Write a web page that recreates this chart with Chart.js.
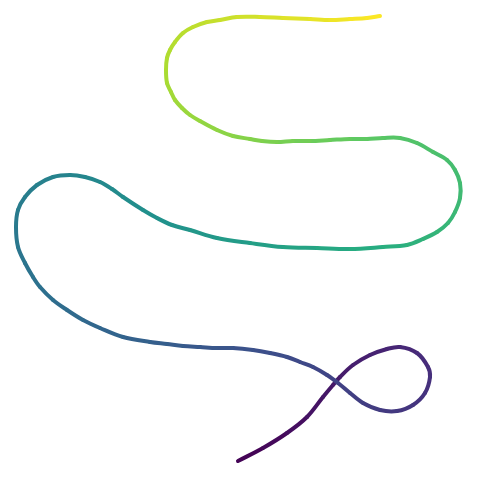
<!DOCTYPE html>
<html>
<head>
<meta charset="utf-8">
<script src="https://cdn.jsdelivr.net/npm/chart.js@4/dist/chart.umd.min.js"></script>
<style>
  html, body { margin: 0; padding: 0; background: #fff; }
  #wrap { width: 480px; height: 480px; }
</style>
</head>
<body>
<div id="wrap"><canvas id="chart"></canvas></div>
<script>
// path traced from start (dark) to end (bright)
const xs = [
  2.38, 2.63, 2.87, 3.07, 3.23, 3.33, 3.40, 3.53, 3.70, 3.87,
  4.00, 4.17, 4.28, 4.30, 4.25, 4.13, 3.97, 3.80, 3.63, 3.50,
  3.38, 3.27, 3.13, 3.00, 2.87, 2.70, 2.53, 2.33, 2.17, 2.00,
  1.83, 1.67, 1.50, 1.23, 1.00, 0.83, 0.67, 0.53, 0.40, 0.33,
  0.25, 0.18, 0.16, 0.18, 0.25, 0.37, 0.53, 0.70, 0.85, 1.00,
  1.12, 1.23, 1.43, 1.57, 1.72, 1.90, 2.17, 2.50, 2.83, 3.17,
  3.50, 3.83, 4.07, 4.23, 4.37, 4.48, 4.55, 4.60, 4.60, 4.55,
  4.47, 4.33, 4.17, 4.00, 3.83, 3.67, 3.50, 3.30, 3.10, 2.93,
  2.77, 2.62, 2.50, 2.33, 2.17, 2.00, 1.90, 1.82, 1.75, 1.71,
  1.67, 1.66, 1.67, 1.70, 1.75, 1.83, 1.93, 2.07, 2.20, 2.37,
  2.60, 2.83, 3.10, 3.30, 3.50, 3.67, 3.80
];
const ys = [
  0.19, 0.32, 0.47, 0.63, 0.83, 0.95, 1.03, 1.15, 1.25, 1.31,
  1.33, 1.27, 1.13, 1.03, 0.87, 0.75, 0.69, 0.70, 0.77, 0.87,
  0.97, 1.05, 1.13, 1.18, 1.23, 1.27, 1.30, 1.32, 1.32, 1.33,
  1.34, 1.36, 1.38, 1.43, 1.52, 1.60, 1.70, 1.80, 1.93, 2.03,
  2.17, 2.33, 2.53, 2.70, 2.83, 2.95, 3.03, 3.05, 3.03, 2.98,
  2.91, 2.83, 2.70, 2.62, 2.55, 2.50, 2.42, 2.37, 2.33, 2.32,
  2.31, 2.33, 2.35, 2.41, 2.48, 2.57, 2.68, 2.82, 2.97, 3.10,
  3.20, 3.28, 3.37, 3.42, 3.42, 3.41, 3.41, 3.40, 3.39, 3.39,
  3.38, 3.39, 3.41, 3.44, 3.50, 3.59, 3.65, 3.72, 3.80, 3.88,
  3.97, 4.10, 4.22, 4.30, 4.38, 4.47, 4.53, 4.58, 4.60, 4.63,
  4.63, 4.62, 4.61, 4.60, 4.61, 4.62, 4.64
];

const viridis = [
  [68, 1, 84], [71, 45, 123], [59, 82, 139], [44, 114, 142], [33, 145, 140],
  [40, 174, 128], [94, 201, 98], [173, 220, 48], [253, 231, 37]
];

function viridisColor(t) {
  t = Math.min(1, Math.max(0, t));
  const p = t * (viridis.length - 1);
  const i = Math.min(viridis.length - 2, Math.floor(p));
  const f = p - i;
  const c = viridis[i].map((v, k) => Math.round(v + (viridis[i + 1][k] - v) * f));
  return `rgb(${c[0]},${c[1]},${c[2]})`;
}

// colour runs along the arc length of the path
const cum = [0];
for (let i = 1; i < xs.length; i++) {
  cum.push(cum[i - 1] + Math.hypot(xs[i] - xs[i - 1], ys[i] - ys[i - 1]));
}
const total = cum[cum.length - 1];

const points = xs.map((x, i) => ({ x: x, y: ys[i] }));

new Chart(document.getElementById('chart'), {
  type: 'scatter',
  data: {
    datasets: [{
      data: points,
      showLine: true,
      pointRadius: 0,
      borderWidth: 4,
      borderCapStyle: 'round',
      borderJoinStyle: 'round',
      tension: 0.35,
      segment: {
        borderColor: ctx => viridisColor((cum[ctx.p0DataIndex] + cum[ctx.p1DataIndex]) / 2 / total)
      }
    }]
  },
  options: {
    responsive: true,
    maintainAspectRatio: false,
    animation: false,
    layout: { padding: 0 },
    plugins: { legend: { display: false }, tooltip: { enabled: false } },
    scales: {
      x: { type: 'linear', min: 0, max: 4.8, display: false },
      y: { type: 'linear', min: 0, max: 4.8, display: false }
    }
  }
});
</script>
</body>
</html>
